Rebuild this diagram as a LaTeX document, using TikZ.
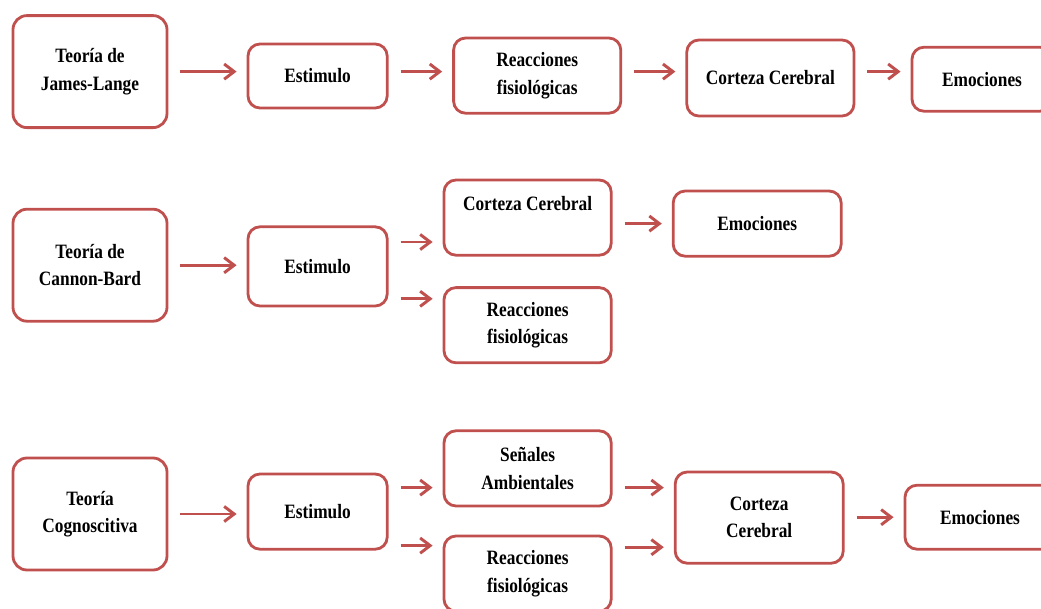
\documentclass[tikz,border=0pt]{standalone}
\usepackage{fontspec}
\setmainfont{Liberation Serif}[FakeStretch=0.85]
\usetikzlibrary{positioning, arrows.meta}
\definecolor{rojizo}{HTML}{C0504D}

\begin{document}
\begin{tikzpicture}[
    >={Straight Barb[length=2.5mm, width=3.8mm]},
    teoria/.style = {rectangle, rounded corners=0.35cm, draw=rojizo, line width=2pt, minimum width=3.85cm, minimum height=2.8cm, align=center, font=\fontsize{14.5}{19.5}\selectfont\bfseries},
    paso/.style   = {rectangle, rounded corners=0.3cm, draw=rojizo, line width=2pt, minimum width=4.18cm, minimum height=1.88cm, align=center, font=\fontsize{14.5}{19.5}\selectfont\bfseries},
    flecha/.style = {->, draw=rojizo, line width=2.1pt, shorten <=0.3cm, shorten >=0.25cm},
]

\useasboundingbox (0,0) rectangle (26.025,-15.2);
\clip (0,0) rectangle (26.025,-15.2);

% fila 1: James-Lange
\node[teoria] (jl) at (2.25,-1.79) {Teoría de\\James-Lange};
\node[paso, minimum width=3.48cm, minimum height=1.6cm] (est1) at (7.94,-1.90) {Estimulo};
\node[paso] (rf1) at (13.43,-1.89) {Reacciones\\fisiológicas};
\node[paso, minimum height=1.9cm] (cc1) at (19.26,-1.95) {Corteza Cerebral};
\node[paso, minimum width=3.5cm, minimum height=1.6cm] (em1) at (24.55,-1.98) {Emociones};

\draw[flecha] (jl.east) -- (jl.east -| est1.west);
\draw[flecha] (est1.east |- jl) -- (rf1.west |- jl);
\draw[flecha] (rf1.east |- jl) -- (cc1.west |- jl);
\draw[flecha] (cc1.east |- jl) -- (em1.west |- jl);

% fila 2: Cannon-Bard
\node[teoria] (cb) at (2.25,-6.63) {Teoría de\\Cannon-Bard};
\node[paso, minimum width=3.48cm, minimum height=1.98cm] (est2) at (7.94,-6.66) {Estimulo};
\node[paso] (cc2) at (13.19,-5.44) {Corteza Cerebral\\~};
\node[paso, minimum width=4.2cm, minimum height=1.63cm] (em2) at (18.93,-5.59) {Emociones};
\node[paso] (rf2) at (13.19,-8.13) {Reacciones\\fisiológicas};

\draw[flecha] (cb.east) -- (cb.east -| est2.west);
\draw[flecha] ([yshift=0.61cm]est2.east) -- ([yshift=0.61cm]est2.east -| cc2.west);
\draw[flecha] ([yshift=-0.81cm]est2.east) -- ([yshift=-0.81cm]est2.east -| rf2.west);
\draw[flecha] (cc2.east |- em2) -- (em2.west);

% fila 3: Cognoscitiva
\node[teoria] (cog) at (2.25,-12.85) {Teoría\\Cognoscitiva};
\node[paso, minimum width=3.48cm] (est3) at (7.94,-12.79) {Estimulo};
\node[paso] (sa3) at (13.19,-11.71) {Señales\\Ambientales};
\node[paso] (rf3) at (13.19,-14.34) {Reacciones\\fisiológicas};
\node[paso, minimum width=4.2cm, minimum height=2.28cm] (cc3) at (18.98,-12.94) {Corteza\\Cerebral};
\node[paso, minimum width=3.75cm, minimum height=1.6cm] (em3) at (24.5,-12.93) {Emociones};

\draw[flecha] (cog.east) -- (cog.east -| est3.west);
\draw[flecha] ([yshift=0.6cm]est3.east) -- ([yshift=0.6cm]est3.east -| sa3.west);
\draw[flecha] ([yshift=-0.85cm]est3.east) -- ([yshift=-0.85cm]est3.east -| rf3.west);
\draw[flecha] ([yshift=0.75cm]cc3.west -| sa3.east) -- ([yshift=0.75cm]cc3.west);
\draw[flecha] ([yshift=-0.74cm]cc3.west -| rf3.east) -- ([yshift=-0.74cm]cc3.west);
\draw[flecha] (cc3.east |- em3) -- (em3.west);

\end{tikzpicture}
\end{document}
